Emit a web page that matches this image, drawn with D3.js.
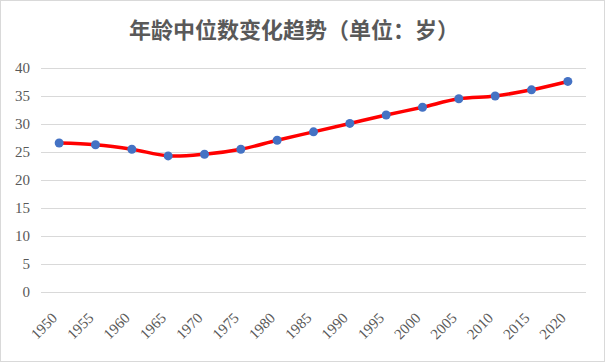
<!DOCTYPE html>
<html>
<head>
<meta charset="utf-8">
<script src="https://cdn.jsdelivr.net/npm/d3@7/dist/d3.min.js"></script>
<style>
  body { margin: 0; background: #fff; }
  svg { display: block; }
  .lbl { font-family: "Liberation Serif", "DejaVu Serif", serif; font-size: 15px; fill: #595959; }
</style>
</head>
<body>
<div id="chart"></div>
<script>
// chart data
var years = ['1950', '1955', '1960', '1965', '1970', '1975', '1980', '1985', '1990', '1995', '2000', '2005', '2010', '2015', '2020']
var medianAge = [26.6, 26.3, 25.5, 24.3, 24.6, 25.5, 27.1, 28.6, 30.1, 31.6, 33.0, 34.5, 35.0, 36.1, 37.6]
var yTicks = [0, 5, 10, 15, 20, 25, 30, 35, 40]
var title = '年龄中位数变化趋势（单位：岁）'

var W = 605
var H = 362
var margin = { left: 41, right: 19, top: 68, bottom: 70 }
var plotW = W - margin.left - margin.right
var plotH = H - margin.top - margin.bottom

var svg = d3.select('#chart').append('svg')
  .attr('width', W)
  .attr('height', H)

// outer border
svg.append('rect')
  .attr('x', 0.5).attr('y', 0.5)
  .attr('width', W - 1).attr('height', H - 1)
  .attr('fill', '#fff')
  .attr('stroke', '#d9d9d9')

svg.append('text')
  .attr('x', 294)
  .attr('y', 38)
  .attr('text-anchor', 'middle')
  .style('font-family', '"Noto Sans CJK SC", sans-serif')
  .style('font-weight', 'bold')
  .style('font-size', '22px')
  .style('fill', '#595959')
  .text(title)

var g = svg.append('g')
  .attr('transform', 'translate(' + margin.left + ',' + margin.top + ')')

var x = d3.scaleBand().domain(years).range([0, plotW])
var y = d3.scaleLinear().domain([0, 40]).range([plotH, 0])

// gridlines
g.append('g')
  .selectAll('line')
  .data(yTicks)
  .enter()
  .append('line')
  .attr('x1', 0)
  .attr('x2', plotW)
  .attr('y1', function (d) { return Math.round(y(d)) + 0.5 })
  .attr('y2', function (d) { return Math.round(y(d)) + 0.5 })
  .attr('stroke', '#d9d9d9')
  .attr('stroke-width', 1)

// y axis labels
var yAxis = d3.axisLeft(y).tickValues(yTicks).tickSize(0).tickPadding(11)
g.append('g')
  .call(yAxis)
  .attr('font-family', null)
  .attr('font-size', null)
  .call(function (s) { s.select('.domain').remove() })
  .selectAll('text')
  .attr('class', 'lbl')

// x axis labels
var xAxis = d3.axisBottom(x).tickSize(0).tickPadding(0)
g.append('g')
  .attr('transform', 'translate(0,' + plotH + ')')
  .call(xAxis)
  .attr('font-family', null)
  .attr('font-size', null)
  .call(function (s) { s.select('.domain').remove() })
  .selectAll('text')
  .attr('class', 'lbl')
  .style('text-anchor', 'end')
  .attr('dx', 0)
  .attr('dy', 0)
  .attr('transform', 'translate(-1,27) rotate(-45)')

// line
var line = d3.line()
  .x(function (d, i) { return x(years[i]) + x.bandwidth() / 2 })
  .y(function (d) { return y(d) })
  .curve(d3.curveCatmullRom.alpha(0.5))

g.append('path')
  .datum(medianAge)
  .attr('d', line)
  .attr('fill', 'none')
  .attr('stroke', '#ff0000')
  .attr('stroke-width', 3.5)
  .attr('stroke-linejoin', 'round')

g.append('g')
  .selectAll('circle')
  .data(medianAge)
  .enter()
  .append('circle')
  .attr('cx', function (d, i) { return x(years[i]) + x.bandwidth() / 2 })
  .attr('cy', function (d) { return y(d) })
  .attr('r', 4.5)
  .attr('fill', '#4472c4')
</script>
</body>
</html>
